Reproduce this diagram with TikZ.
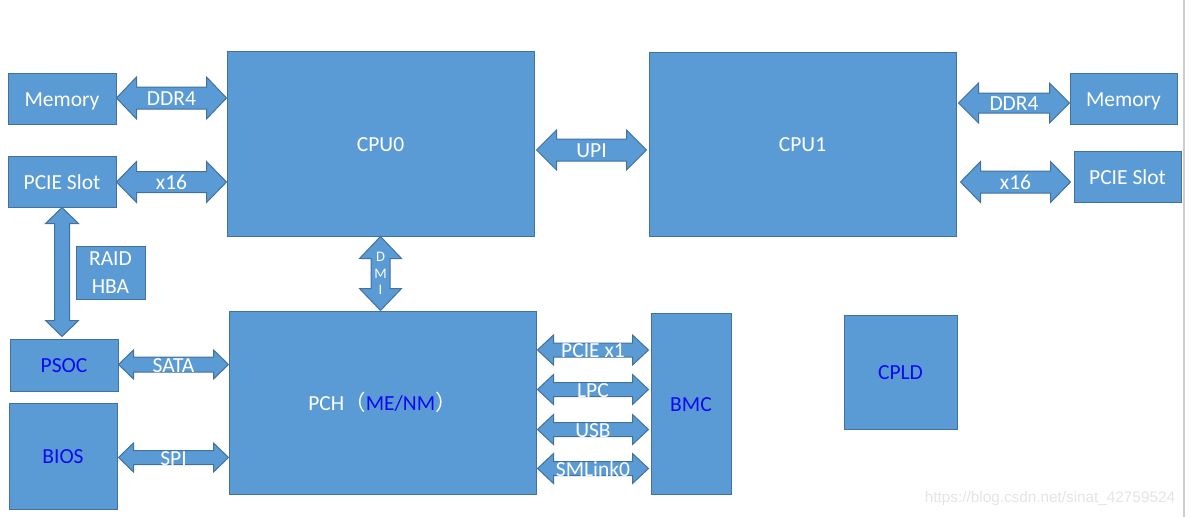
\documentclass[tikz,border=0pt]{standalone}
\usepackage{fontspec}
\setmainfont{Carlito}
\newfontfamily\cjk{Noto Sans CJK SC}
\newfontfamily\wmfont{Liberation Sans}
\usetikzlibrary{calc}
\definecolor{fillc}{RGB}{91,155,213}
\definecolor{bdr}{RGB}{65,113,156}
\definecolor{blu}{RGB}{10,10,240}
\definecolor{wmgray}{RGB}{228,228,228}
\definecolor{edgegray}{RGB}{205,205,205}
\tikzset{
  box/.style={draw=bdr, fill=fillc, line width=1pt, inner sep=0pt, text=white,
    font=\fontsize{21.5}{28}\selectfont},
  capc/.style={text height=15.2pt, text depth=0pt},
  arr/.style={draw=bdr, fill=fillc, line width=1pt, line join=miter},
  lbl/.style={text=white, inner sep=0pt, font=\fontsize{21.5}{26}\selectfont,
    text height=15.2pt, text depth=0pt},
  dmi/.style={text=white, inner sep=0pt, align=center,
    font=\fontsize{14.5}{16.5}\selectfont},
  wm/.style={text=wmgray, inner sep=0pt, font=\wmfont\fontsize{15.3}{17}\selectfont,
    text height=11pt, text depth=0pt},
}
% box from (x1,y1) to (x2,y2) in pixels
\newcommand\bx[7][capc]{%
  \node[box,#1,minimum width={(#5-#3)*1pt},minimum height={(#6-#4)*1pt}]
    (#2) at ({(#3+#5)/2},{(#4+#6)/2}) {#7};}
% horizontal double block arrow: left end, right end, y, shaft half, head half, head length, label name, label
\newcommand\harr[8]{%
  \path[arr] let \p1=(#1), \p2=(#2) in
    (\x1,-#3pt) -- (\x1+#6pt,-#3pt+#5pt) -- (\x1+#6pt,-#3pt+#4pt)
    -- (\x2-#6pt,-#3pt+#4pt) -- (\x2-#6pt,-#3pt+#5pt) -- (\x2,-#3pt)
    -- (\x2-#6pt,-#3pt-#5pt) -- (\x2-#6pt,-#3pt-#4pt) -- (\x1+#6pt,-#3pt-#4pt)
    -- (\x1+#6pt,-#3pt-#5pt) -- cycle
    ({(\x1+\x2)/2},-#3pt) node[lbl] (#7) {#8};}
% vertical double block arrow: top end, bottom end, x, shaft half, head half, head length
\newcommand\varr[6]{%
  \path[arr] let \p1=(#1), \p2=(#2) in
    (#3pt,\y1) -- (#3pt+#5pt,\y1-#6pt) -- (#3pt+#4pt,\y1-#6pt)
    -- (#3pt+#4pt,\y2+#6pt) -- (#3pt+#5pt,\y2+#6pt) -- (#3pt,\y2)
    -- (#3pt-#5pt,\y2+#6pt) -- (#3pt-#4pt,\y2+#6pt) -- (#3pt-#4pt,\y1-#6pt)
    -- (#3pt-#5pt,\y1-#6pt) -- cycle;}
\begin{document}
\begin{tikzpicture}[x=1pt,y=-1pt]
\useasboundingbox (0,0) rectangle (1191,517);
\draw[edgegray, line width=1.2pt] (1184,0) -- (1184,517);
% boxes
\bx{mem0}{8}{73}{116}{124}{Memory}
\bx{pcie0}{8}{156}{116}{207}{PCIE Slot}
\bx{cpu0}{227}{51}{534}{236}{CPU0}
\bx{cpu1}{649}{52}{956}{236}{CPU1}
\bx{mem1}{1070}{73}{1177}{124}{Memory}
\bx{pcie1}{1074}{151}{1181}{202}{PCIE Slot}
\bx[align=center]{raid}{76}{246}{145}{299}{RAID\\HBA}
\bx[capc,text=blu]{psoc}{10}{339}{118}{391}{PSOC}
\bx[capc,text=blu]{bios}{9}{403}{117}{509}{BIOS}
\bx{pch}{229}{311}{536}{494}{PCH{\cjk （}\textcolor{blu}{ME/NM}{\cjk ）}}
\bx[capc,text=blu]{bmc}{651}{313}{731}{494}{BMC}
\bx[capc,text=blu]{cpld}{844}{315}{957}{429}{CPLD}
% arrows
\harr{mem0.east}{cpu0.west}{98}{11}{21}{20}{lddr0}{DDR4}
\harr{pcie0.east}{cpu0.west}{182}{10.5}{20.5}{20}{lx0}{x16}
\harr{$(cpu0.east)+(2,0)$}{$(cpu1.west)+(-2,0)$}{150}{11}{20}{20}{lupi}{UPI}
\harr{$(cpu1.east)+(2,0)$}{mem1.west}{103}{10}{20}{20}{lddr1}{DDR4}
\harr{$(cpu1.east)+(4,0)$}{$(pcie1.west)+(-3,0)$}{182}{11}{20.5}{20}{lx1}{x16}
\harr{psoc.east}{pch.west}{364.5}{7.5}{14.5}{15}{lsata}{SATA}
\harr{$(bios.east)+(1,0)$}{pch.west}{457.5}{7}{14.5}{15}{lspi}{SPI}
\harr{$(pch.east)+(1,0)$}{$(bmc.west)+(-2,0)$}{350}{7}{15}{16}{lpcie}{PCIE x1}
\harr{$(pch.east)+(1,0)$}{$(bmc.west)+(-2,0)$}{389.5}{7}{15}{16}{llpc}{LPC}
\harr{$(pch.east)+(1,0)$}{$(bmc.west)+(-2,0)$}{429.5}{7}{15}{16}{lusb}{USB}
\harr{$(pch.east)+(1,0)$}{$(bmc.west)+(-2,0)$}{468.5}{7}{15}{16}{lsml}{SMLink0}
\varr{cpu0.south}{pch.north}{380.5}{9.5}{21}{22}
\node[dmi] (ldmi) at (380.5,273.5) {D\\M\\I};
\varr{pcie0.south}{$(psoc.north)+(0,-2)$}{62}{7.5}{16.5}{16}
% watermark
\node[wm] (wmark) at (1050,497) {https://blog.csdn.net/sinat\_42759524};
\end{tikzpicture}
\end{document}
